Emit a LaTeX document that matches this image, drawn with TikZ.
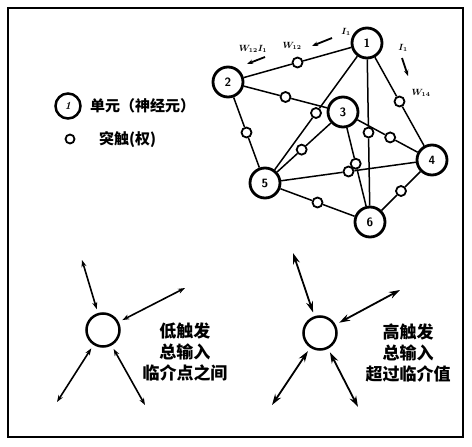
\documentclass[tikz,border=0pt]{standalone}
\usepackage{amsmath}
\usepackage{fontspec}
\newfontfamily\cjk{Noto Sans CJK SC}
\usetikzlibrary{arrows.meta,calc}
\begin{document}
\begin{tikzpicture}[x=1pt,y=-1pt,
  unit/.style={circle,draw,line width=2.8pt,minimum size=30pt,inner sep=0pt,fill=white,
    font=\fontsize{12}{12}\selectfont\bfseries\sffamily},
  syn/.style={circle,draw,line width=1.8pt,minimum size=10pt,inner sep=0pt,fill=white},
  link/.style={line width=1.5pt},
  lbl/.style={font=\fontsize{9}{9}\selectfont\bfseries, inner sep=0pt},
  sarrow/.style={line width=1.8pt,-{Stealth[length=6pt,width=4.5pt]}},
  bigc/.style={circle,draw,line width=2.5pt,minimum size=33pt,inner sep=0pt},
  dblA/.style={line width=1.6pt,shorten <=4pt,{Stealth[length=7pt,width=5pt]}-{Stealth[length=7pt,width=5pt]}},
  dblB/.style={line width=1.8pt,shorten <=4pt,{Stealth[length=11pt,width=7pt]}-{Stealth[length=11pt,width=7pt]}},
  cjktext/.style={font=\cjk\bfseries\fontsize{17}{21}\selectfont,align=center,inner sep=0pt},
  legtext/.style={font=\cjk\bfseries\fontsize{15}{15}\selectfont,anchor=west,inner sep=0pt}
]
\useasboundingbox (0,0) rectangle (472,447);
\draw[line width=1.6pt] (8,8) rectangle (463,437);

% network units
\node[unit] (n1) at (367,43) {1};
\node[unit] (n2) at (228,82) {2};
\node[unit] (n3) at (343,112) {3};
\node[unit] (n4) at (432,160) {4};
\node[unit] (n5) at (265,183) {5};
\node[unit] (n6) at (370,222) {6};

% synapses
\node[syn] (s12) at ($(n1)!0.5!(n2)$) {};
\node[syn] (s23) at ($(n2)!0.5!(n3)$) {};
\node[syn] (s15) at ($(n1)!0.5!(n5)$) {};
\node[syn] (s25) at ($(n2)!0.5!(n5)$) {};
\node[syn] (s35) at ($(n3)!0.53!(n5)$) {};
\node[syn] (s16) at ($(n1)!0.5!(n6)$) {};
\node[syn] (s34) at ($(n3)!0.53!(n4)$) {};
\node[syn] (s14) at ($(n1)!0.5!(n4)$) {};
\node[syn] (s54) at ($(n5)!0.5!(n4)$) {};
\node[syn] (s36) at ($(n3)!0.47!(n6)$) {};
\node[syn] (s46) at ($(n4)!0.5!(n6)$) {};
\node[syn] (s56) at ($(n5)!0.5!(n6)$) {};

\draw[link] (n1) -- (s12) -- (n2);
\draw[link] (n2) -- (s23) -- (n3);
\draw[link] (n1) -- (s15) -- (n5);
\draw[link] (n2) -- (s25) -- (n5);
\draw[link] (n3) -- (s35) -- (n5);
\draw[link] (n1) -- (s16) -- (n6);
\draw[link] (n3) -- (s34) -- (n4);
\draw[link] (n1) -- (s14) -- (n4);
\draw[link] (n5) -- (s54) -- (n4);
\draw[link] (n3) -- (s36) -- (n6);
\draw[link] (n4) -- (s46) -- (n6);
\draw[link] (n5) -- (s56) -- (n6);

% signal labels
\node[lbl] (w12i) at (253,49) {$\boldsymbol{W_{12}I_1}$};
\node[lbl] (w12) at (292,46) {$\boldsymbol{W_{12}}$};
\node[lbl] (i1a) at (346,32) {$\boldsymbol{I_1}$};
\node[lbl] (i1b) at (403,48) {$\boldsymbol{I_1}$};
\node[lbl] (w14) at (421,93) {$\boldsymbol{W_{14}}$};
\coordinate (a1s) at (265,57); \coordinate (a1e) at (247,64);
\coordinate (a2s) at (332,38); \coordinate (a2e) at (312,46);
\coordinate (a3s) at (402,58); \coordinate (a3e) at (408,76);
\draw[sarrow] (a1s) -- (a1e);
\draw[sarrow] (a2s) -- (a2e);
\draw[sarrow] (a3s) -- (a3e);

% legend
\node[circle,draw,line width=2.5pt,minimum size=25pt,inner sep=0pt,font=\fontsize{11}{11}\selectfont\bfseries\itshape] (lu) at (68,106) {1};
\node[legtext] (lut) at (90,106) {单元（神经元）};
\node[syn,minimum size=9pt] (ls) at (70,139) {};
\node[legtext] (lst) at (99,140) {突触(权)};

% low firing
\node[bigc] (lowc) at (103,330) {};
\coordinate (l1) at (82,260);
\coordinate (l2) at (185,288);
\coordinate (l3) at (57,402);
\coordinate (l4) at (145,405);
\draw[dblA] (lowc) -- (l1);
\draw[dblA] (lowc) -- (l2);
\draw[dblA] (lowc) -- (l3);
\draw[dblA] (lowc) -- (l4);
\node[cjktext] (lowt) at (185,352) {低触发\\总输入\\临介点之间};

% high firing
\node[bigc] (highc) at (320,333) {};
\coordinate (h1) at (293,253);
\coordinate (h2) at (400,290);
\coordinate (h3) at (272,405);
\coordinate (h4) at (358,407);
\draw[dblB] (highc) -- (h1);
\draw[dblB] (highc) -- (h2);
\draw[dblB] (highc) -- (h3);
\draw[dblB] (highc) -- (h4);
\node[cjktext] (hight) at (408,353) {高触发\\总输入\\超过临介值};
\end{tikzpicture}
\end{document}
